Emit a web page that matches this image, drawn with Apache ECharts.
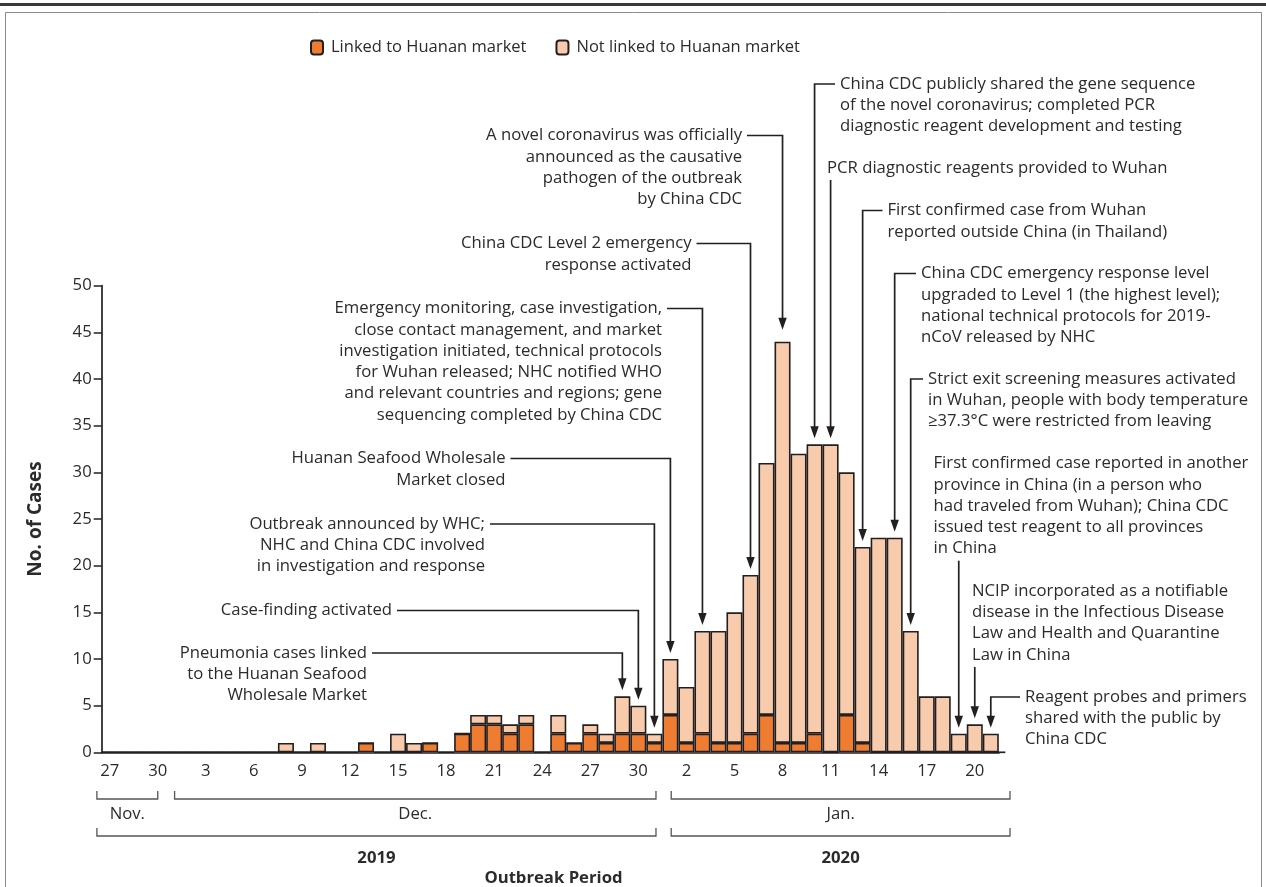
<!DOCTYPE html>
<html><head><meta charset="utf-8">
<script src="https://cdn.jsdelivr.net/npm/echarts@6/dist/echarts.min.js"></script>
<style>html,body{margin:0;padding:0;background:#fff}#c{width:1266px;height:887px}</style>
</head><body><div id="c"></div>
<script>
// ---------- DATA ----------
const dates = [
 'Nov 27','Nov 28','Nov 29','Nov 30',
 'Dec 1','Dec 2','Dec 3','Dec 4','Dec 5','Dec 6','Dec 7','Dec 8','Dec 9','Dec 10',
 'Dec 11','Dec 12','Dec 13','Dec 14','Dec 15','Dec 16','Dec 17','Dec 18','Dec 19','Dec 20',
 'Dec 21','Dec 22','Dec 23','Dec 24','Dec 25','Dec 26','Dec 27','Dec 28','Dec 29','Dec 30','Dec 31',
 'Jan 1','Jan 2','Jan 3','Jan 4','Jan 5','Jan 6','Jan 7','Jan 8','Jan 9','Jan 10',
 'Jan 11','Jan 12','Jan 13','Jan 14','Jan 15','Jan 16','Jan 17','Jan 18','Jan 19','Jan 20','Jan 21'
];
const linked = [
 0,0,0,0,
 0,0,0,0,0,0,0,
 0,0,0,0,0,1,0,
 0,0,1,0,2,3,3,
 2,3,0,2,1,2,1,
 2,2,1,
 4,1,2,1,1,2,4,
 1,1,2,0,4,1,0,
 0,0,0,0,0,0,0
];
const notLinked = [
 0,0,0,0,
 0,0,0,0,0,0,0,
 1,0,1,0,0,0,0,
 2,1,0,0,0,1,1,
 1,1,0,2,0,1,1,
 4,3,1,
 6,6,11,12,14,17,27,
 43,31,31,33,26,21,23,
 23,13,6,6,2,3,2
];
const seriesNames = ['Linked to Huanan market', 'Not linked to Huanan market'];
const yTicks = [0,5,10,15,20,25,30,35,40,45,50];
const events = [
 {date:'Dec 29', lines:['Pneumonia cases linked','to the Huanan Seafood','Wholesale Market']},
 {date:'Dec 30', lines:['Case-finding activated']},
 {date:'Dec 31', lines:['Outbreak announced by WHC;','NHC and China CDC involved','in investigation and response']},
 {date:'Jan 1',  lines:['Huanan Seafood Wholesale','Market closed']},
 {date:'Jan 3',  lines:['Emergency monitoring, case investigation,','close contact management, and market','investigation initiated, technical protocols','for Wuhan released; NHC notified WHO','and relevant countries and regions; gene','sequencing completed by China CDC']},
 {date:'Jan 6',  lines:['China CDC Level 2 emergency','response activated']},
 {date:'Jan 8',  lines:['A novel coronavirus was officially','announced as the causative','pathogen of the outbreak','by China CDC']},
 {date:'Jan 10', lines:['China CDC publicly shared the gene sequence','of the novel coronavirus; completed PCR','diagnostic reagent development and testing']},
 {date:'Jan 11', lines:['PCR diagnostic reagents provided to Wuhan']},
 {date:'Jan 13', lines:['First confirmed case from Wuhan','reported outside China (in Thailand)']},
 {date:'Jan 15', lines:['China CDC emergency response level','upgraded to Level 1 (the highest level);','national technical protocols for 2019-','nCoV released by NHC']},
 {date:'Jan 16', lines:['Strict exit screening measures activated','in Wuhan, people with body temperature','\u226537.3\u00B0C were restricted from leaving']},
 {date:'Jan 19', lines:['First confirmed case reported in another','province in China (in a person who','had traveled from Wuhan); China CDC','issued test reagent to all provinces','in China']},
 {date:'Jan 20', lines:['NCIP incorporated as a notifiable','disease in the Infectious Disease','Law and Health and Quarantine','Law in China']},
 {date:'Jan 21', lines:['Reagent probes and primers','shared with the public by','China CDC']}
];
const periods = [
 {label:'Nov.', from:-0.8, to:3.0, row:0},
 {label:'Dec.', from:4.05, to:34.1, row:0},
 {label:'Jan.', from:35.05, to:56.2, row:0},
 {label:'2019', from:-0.8, to:34.1, row:1},
 {label:'2020', from:35.05, to:56.2, row:1}
];

// ---------- LAYOUT (pixels) ----------
const eventLayout = [
 {x:367, y:653, align:'right'},
 {x:392, y:610.5, align:'right'},
 {x:485, y:524, align:'right'},
 {x:505.5, y:458.5, align:'right'},
 {x:662, y:308.5, align:'right'},
 {x:691.5, y:243.5, align:'right'},
 {x:742, y:135.5, align:'right', gap:12},
 {x:840, y:84, align:'left'},
 {x:827, y:168, align:'left', vertical:true},
 {x:887.5, y:210.5, align:'left'},
 {x:921, y:273.5, align:'left'},
 {x:928, y:379, align:'left'},
 {x:933.5, y:463.5, align:'left', vertical:true},
 {x:972, y:591, align:'left', vertical:true},
 {x:1025, y:697, align:'left'}
];
const FONT = '"Open Sans"';
const FS = 16.7;
const TXT = '#2b2b2b';
const INK = '#231f20';
const LH = 21.3;

const chart = echarts.init(document.getElementById('c'));
chart.setOption({
  animation: false,
  textStyle: {fontFamily: FONT},
  grid: {left: 101.7, right: 267.2, top: 285.7, bottom: 134.7, containLabel: false},
  legend: {
    data: seriesNames, left: 310, top: 39, itemWidth: 12, itemHeight: 14, itemGap: 29,
    padding: 0, selectedMode: false,
    textStyle: {fontFamily: FONT, fontSize: 16.5, color: TXT, padding: [0,0,0,3]}
  },
  xAxis: {
    type: 'category', data: dates, boundaryGap: true,
    axisLine: {lineStyle: {color: INK, width: 1.7}},
    axisTick: {alignWithLabel: true, interval: 2, length: 8, lineStyle: {color: INK, width: 1.5}},
    axisLabel: {interval: 2, margin: 10, fontSize: FS, color: TXT, fontFamily: FONT,
      formatter: v => v.split(' ')[1]}
  },
  yAxis: {
    type: 'value', min: 0, max: 50, interval: 5,
    name: 'No. of Cases', nameLocation: 'middle', nameGap: 57,
    nameTextStyle: {fontFamily: FONT, fontSize: 19, fontWeight: 'bold', color: TXT},
    splitLine: {show: false},
    axisLine: {show: true, lineStyle: {color: INK, width: 1.7}},
    axisTick: {show: true, length: 8, lineStyle: {color: INK, width: 1.5}},
    axisLabel: {margin: 10, fontSize: FS, color: TXT, fontFamily: FONT,
      formatter: v => yTicks.indexOf(v) >= 0 ? String(v) : ''}
  },
  series: [
    {name: seriesNames[0], type: 'bar', stack: 'cases', data: linked, barWidth: '100%',
     barCategoryGap: 0, itemStyle: {color: '#EE7D31', borderColor: INK, borderWidth: 1.6}},
    {name: seriesNames[1], type: 'bar', stack: 'cases', data: notLinked, barWidth: '100%',
     barCategoryGap: 0, itemStyle: {color: '#F8CBAD', borderColor: INK, borderWidth: 1.6}}
  ]
});

// ---------- ANNOTATIONS ----------
function pt(i, v) { return chart.convertToPixel({gridIndex: 0}, [i, v]); }
const x0 = pt(0, 0)[0], k = pt(1, 0)[0] - x0, yBase = pt(0, 0)[1];
const g = [];
// frame
g.push({type:'rect', silent:true, shape:{x:0, y:3, width:1266, height:3}, style:{fill:'#3a3a3a'}});
g.push({type:'rect', silent:true, shape:{x:5.5, y:12.5, width:1256, height:890}, style:{fill:'none', stroke:'#8a8a8a', lineWidth:1}});
// axis extension
const axisEnd = pt(dates.length - 1, 0)[0] + k / 2;
g.push({type:'line', silent:true, shape:{x1:axisEnd - 1, y1:yBase, x2:axisEnd + 6.5, y2:yBase}, style:{stroke:INK, lineWidth:1.7}});

events.forEach((ev, n) => {
  const L = eventLayout[n];
  const idx = dates.indexOf(ev.date);
  const tot = linked[idx] + notLinked[idx];
  const p = pt(idx, tot);
  const tx = p[0], tipY = p[1] - (L.gap || 6);
  g.push({type:'text', silent:true, style:{
    text: ev.lines.join('\n'), x: L.x, y: L.y - LH / 2, align: L.align, verticalAlign: 'top',
    fontFamily: FONT, fontSize: FS, lineHeight: LH, fill: TXT}});
  let pts;
  if (L.vertical) {
    const sy = L.y + (ev.lines.length - 1) * LH + 12;
    pts = [[tx, sy], [tx, tipY - 11]];
  } else {
    const sx = L.align === 'right' ? L.x + 5 : L.x - 5;
    pts = [[sx, L.y], [tx, L.y], [tx, tipY - 11]];
  }
  g.push({type:'polyline', silent:true, shape:{points: pts}, style:{stroke: INK, lineWidth: 1.7, fill: null}});
  g.push({type:'polygon', silent:true, shape:{points: [[tx - 4.2, tipY - 12], [tx + 4.2, tipY - 12], [tx, tipY]]}, style:{fill: INK}});
});

// period brackets
periods.forEach(pr => {
  const a = x0 + k * pr.from, b = x0 + k * pr.to;
  const hy = pr.row === 0 ? 799 : 836, ty = hy - 8;
  g.push({type:'polyline', silent:true, shape:{points:[[a, ty],[a, hy],[b, hy],[b, ty]]}, style:{stroke:'#555', lineWidth:1.3, fill:null}});
  g.push({type:'text', silent:true, style:{text: pr.label, x:(a + b) / 2, y: pr.row === 0 ? 814 : 858,
    align:'center', verticalAlign:'middle', fontFamily: FONT, fontSize: FS,
    fontWeight: pr.row === 0 ? 'normal' : 'bold', fill: TXT}});
});
const whole = [x0 + k * periods[0].from, x0 + k * periods[2].to];
g.push({type:'text', silent:true, style:{text:'Outbreak Period', x:(whole[0] + whole[1]) / 2, y:878,
  align:'center', verticalAlign:'middle', fontFamily: FONT, fontSize: FS, fontWeight:'bold', fill: TXT}});

chart.setOption({graphic: {elements: g}});
</script>
</body></html>
